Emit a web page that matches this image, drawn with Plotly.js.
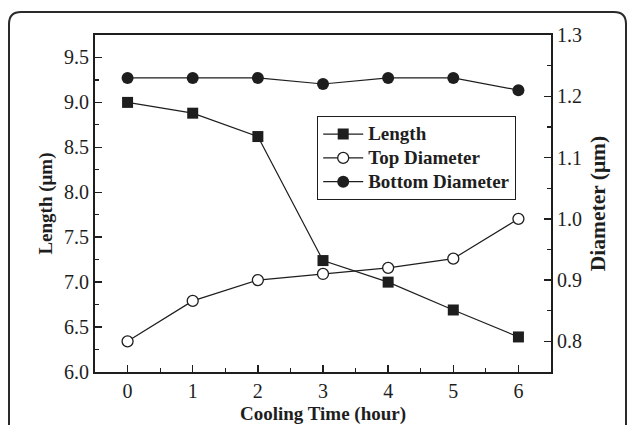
<!DOCTYPE html>
<html>
<head>
<meta charset="utf-8">
<script src="https://cdn.plot.ly/plotly-3.0.1.min.js"></script>
<style>html,body{margin:0;padding:0;background:#fff;}#chart{width:627px;height:425px;}</style>
</head>
<body>
<div id="chart"></div>
<script>
// Data
var hours = [0, 1, 2, 3, 4, 5, 6];
var lengthUm = [9.0, 8.88, 8.62, 7.24, 7.0, 6.69, 6.39];
var topDiameterUm = [0.80, 0.866, 0.90, 0.91, 0.92, 0.935, 1.00];
var bottomDiameterUm = [1.23, 1.23, 1.23, 1.22, 1.23, 1.23, 1.21];
var seriesNames = ['Length', 'Top Diameter', 'Bottom Diameter'];
var xTickVals = [0, 1, 2, 3, 4, 5, 6];

var ink = '#1e1e1e';
var serif = "'Liberation Serif', 'Times New Roman', serif";

function legendLabel(s) { return '<span style="font-size:19px">' + s + '</span>'; }

var traces = [
  {x: hours, y: lengthUm, name: legendLabel(seriesNames[0]), type: 'scatter', mode: 'lines+markers',
   line: {color: ink, width: 1.2},
   marker: {symbol: 'square', size: 11, color: ink, line: {width: 0}}},
  {x: hours, y: topDiameterUm, name: legendLabel(seriesNames[1]), type: 'scatter', mode: 'lines+markers', yaxis: 'y2',
   line: {color: ink, width: 1.2},
   marker: {symbol: 'circle', size: 11, color: '#ffffff', line: {color: ink, width: 1.3}}},
  {x: hours, y: bottomDiameterUm, name: legendLabel(seriesNames[2]), type: 'scatter', mode: 'lines+markers', yaxis: 'y2',
   line: {color: ink, width: 1.2},
   marker: {symbol: 'circle', size: 12, color: ink, line: {width: 0}}}
];

// pixel -> paper helpers for the decorative frame
var L = 95, R = 551, T = 35, B = 372;
function px(x) { return (x - L) / (R - L); }
function py(y) { return (B - y) / (B - T); }
var framePath = 'M' + px(9) + ',' + py(440) +
  ' L' + px(9) + ',' + py(24) +
  ' Q' + px(9) + ',' + py(12) + ' ' + px(21) + ',' + py(12) +
  ' L' + px(614) + ',' + py(12) +
  ' Q' + px(626) + ',' + py(12) + ' ' + px(626) + ',' + py(24) +
  ' L' + px(626) + ',' + py(440);

var layout = {
  width: 627, height: 425,
  margin: {l: L, r: 627 - R, t: T, b: 425 - B, pad: 0},
  paper_bgcolor: '#ffffff', plot_bgcolor: '#ffffff',
  font: {family: serif, size: 20, color: ink},
  showlegend: true,
  legend: {
    x: px(317), y: py(116), xanchor: 'left', yanchor: 'top',
    bgcolor: '#ffffff', bordercolor: ink, borderwidth: 1.2,
    font: {family: serif, size: 16, color: ink, weight: 'bold'},
    itemwidth: 40, tracegroupgap: 0
  },
  xaxis: {
    range: [-0.5, 6.5], tickvals: xTickVals, ticks: 'inside', ticklen: 7, tickwidth: 1.5,
    tickcolor: ink, showline: true, linecolor: ink, linewidth: 2, mirror: true,
    showgrid: false, zeroline: false, automargin: false,
    minor: {ticks: 'inside', ticklen: 4, tickwidth: 1.2, tickcolor: ink, dtick: 0.5, tick0: 0, showgrid: false},
    tickfont: {family: serif, size: 20, color: ink},
    title: {text: 'Cooling Time (hour)', font: {family: serif, size: 19, color: ink, weight: 'bold'}, standoff: 9}
  },
  yaxis: {
    range: [6, 9.75], dtick: 0.5, tick0: 6, tickformat: '.1f', ticks: 'inside', ticklen: 7, tickwidth: 1.5,
    tickcolor: ink, showline: true, linecolor: ink, linewidth: 2, mirror: true,
    showgrid: false, zeroline: false, automargin: false,
    minor: {ticks: 'inside', ticklen: 4, tickwidth: 1.2, tickcolor: ink, dtick: 0.25, tick0: 6, showgrid: false},
    tickfont: {family: serif, size: 20, color: ink},
    title: {text: 'Length (μm)', font: {family: serif, size: 19, color: ink, weight: 'bold'}, standoff: 6}
  },
  yaxis2: {
    overlaying: 'y', side: 'right',
    range: [0.75, 1.3], dtick: 0.1, tick0: 0.8, tickformat: '.1f', ticks: 'inside', ticklen: 7, tickwidth: 1.5,
    tickcolor: ink, showline: true, linecolor: ink, linewidth: 2,
    showgrid: false, zeroline: false, automargin: false,
    minor: {ticks: 'inside', ticklen: 4, tickwidth: 1.2, tickcolor: ink, dtick: 0.05, tick0: 0.75, showgrid: false},
    tickfont: {family: serif, size: 20, color: ink},
    title: {text: 'Diameter (μm)', font: {family: serif, size: 21.5, color: ink, weight: 'bold'}, standoff: 9}
  },
  shapes: [
    {type: 'path', xref: 'paper', yref: 'paper', path: framePath, line: {color: '#2a2a2a', width: 2}, layer: 'below'}
  ]
};

Plotly.newPlot('chart', traces, layout, {staticPlot: true, displayModeBar: false});
</script>
</body>
</html>
